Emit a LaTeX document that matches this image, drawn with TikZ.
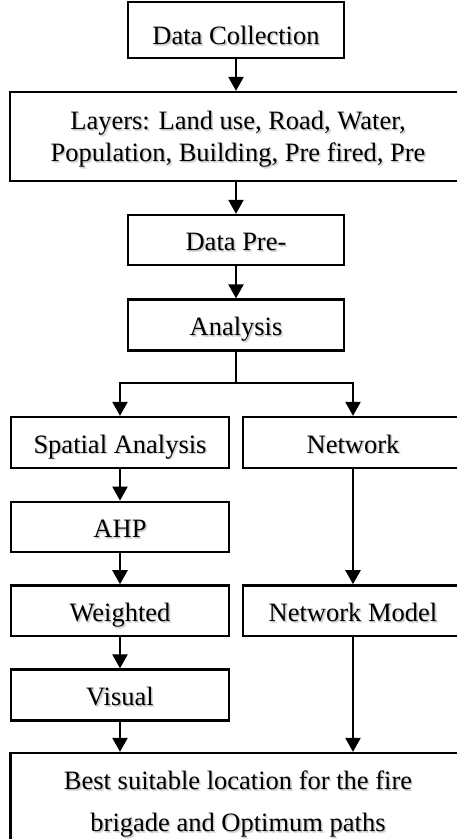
\documentclass[tikz,border=0pt]{standalone}
\usepackage{fontspec}
\setmainfont{Liberation Serif}
\usetikzlibrary{arrows.meta}
% text with a soft grey drop shadow
\newcommand{\shd}[1]{\rlap{\textcolor{black!14}{\kern1.8pt\raisebox{-1.8pt}{#1}}}\rlap{\textcolor{black!22}{\kern0.9pt\raisebox{-0.9pt}{#1}}}#1}
\begin{document}
\begin{tikzpicture}[x=1pt,y=-1pt,
  box/.style={draw, line width=2.3pt, inner sep=0pt,
    font=\fontsize{26.5}{32}\selectfont, text height=21pt, text depth=0pt},
  conn/.style={line width=2.3pt, -{Triangle[length=14pt,width=15pt]}},
  link/.style={line width=2.3pt}]
\useasboundingbox (0,0) rectangle (457,839);
\clip (0,0) rectangle (457,839);

% main column
\node[box, minimum width=216pt, minimum height=56pt, text height=28.5pt] (dc) at (236,30) {\shd{Data Collection}};
\node[box, minimum width=456pt, minimum height=89pt, align=center, text height=50.5pt] (layers) at (238,136.5)
  {\shd{Layers: Land use, Road, Water,}\\\shd{Population, Building, Pre fired, Pre}};
\node[box, minimum width=216pt, minimum height=50pt] (pre) at (236,240) {\shd{Data Pre-}};
\node[box, minimum width=216pt, minimum height=51pt] (an) at (236,325) {\shd{Analysis}};

% left branch
\node[box, minimum width=218pt, minimum height=51pt] (sp) at (120,442.5) {\shd{Spatial Analysis}};
\node[box, minimum width=218pt, minimum height=50.5pt] (ahp) at (120,527) {\shd{AHP}};
\node[box, minimum width=218pt, minimum height=50.7pt] (wt) at (120,610.7) {\shd{Weighted}};
\node[box, minimum width=218pt, minimum height=51pt] (vis) at (120,695) {\shd{Visual}};

% right branch
\node[box, minimum width=220pt, minimum height=51pt] (net) at (353,442.5) {\shd{Network}};
\node[box, minimum width=220pt, minimum height=50.7pt] (nm) at (353,610.7) {\shd{Network Model}};

% result
\node[box, minimum width=455pt, minimum height=98pt, align=center,
  font=\fontsize{26.5}{42}\selectfont, text height=59.5pt] (fin) at (238,802)
  {\shd{Best suitable location for the fire}\\\shd{brigade and Optimum paths}};

\coordinate (split) at (236,383);

% connectors
\draw[conn] (dc) -- (layers.north -| dc);
\draw[conn] (layers.south -| pre) -- (pre);
\draw[conn] (pre) -- (an);
\draw[link] (an) -- (split);
\draw[conn] (split) -| (sp.north);
\draw[conn] (split) -| (net.north);
\draw[conn] (sp) -- (ahp);
\draw[conn] (ahp) -- (wt);
\draw[conn] (wt) -- (vis);
\draw[conn] (vis) -- (fin.north -| vis);
\draw[conn] (net) -- (nm);
\draw[conn] (nm) -- (fin.north -| nm);
\end{tikzpicture}
\end{document}
